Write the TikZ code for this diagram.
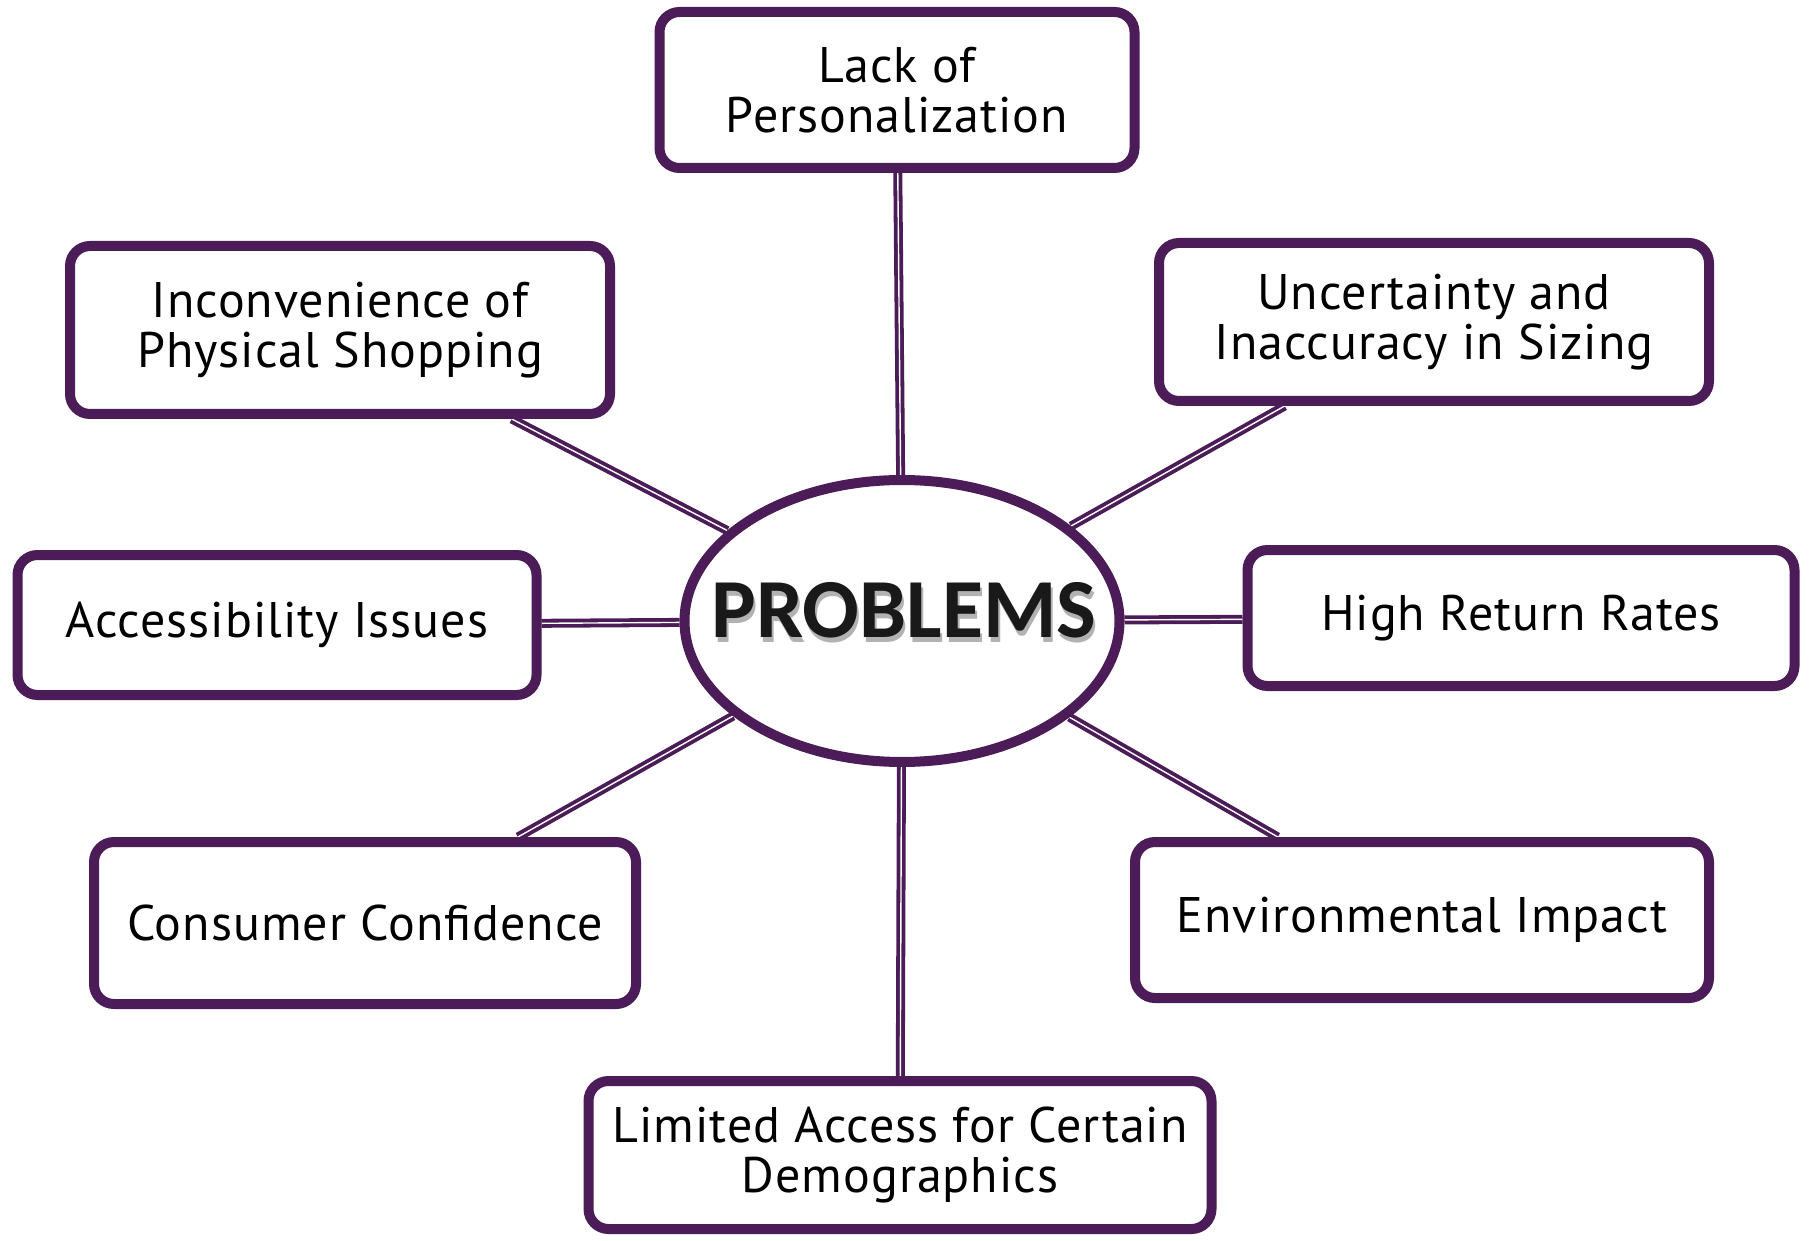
\documentclass[tikz,border=0pt]{standalone}
\usepackage{fontspec}
\setmainfont{PT Sans}[LetterSpace=2]
\newfontfamily\titlefont{Carlito}
\usetikzlibrary{shapes.geometric,backgrounds}

\definecolor{plum}{HTML}{4B1C57}

\begin{document}
\begin{tikzpicture}[x=0.5pt,y=-0.5pt,
  issue/.style={draw=plum,line width=5pt,rounded corners=10pt,fill=white,
    align=center,inner sep=0pt,font=\fontsize{25}{25}\selectfont},
  hub/.style={ellipse,draw=plum,line width=5pt,fill=white,inner sep=0pt,
    minimum width=217.5pt,minimum height=141pt},
  title/.style={font=\titlefont\bfseries\fontsize{42}{42}\selectfont},
  link/.style={draw=plum,line width=1.9pt,double=white,double distance=0.7pt}]

  \useasboundingbox (0,0) rectangle (1812,1241);

  % centre
  \node [hub] (hub) at (902,621) {};
  \node [title,text=black!30] (shade) at (906,615) {PROBLEMS};
  \node [title,text=black!90] (title) at (904,610) {PROBLEMS};

  % the eight problems
  \node [issue,minimum width=237.5pt,minimum height=78pt] (lack) at (897,90)
    {Lack of\\Personalization};
  \node [issue,minimum width=270pt,minimum height=84pt] (incon) at (340,330)
    {Inconvenience of\\Physical Shopping};
  \node [issue,minimum width=275pt,minimum height=79pt] (sizing) at (1434,322)
    {Uncertainty and\\Inaccuracy in Sizing};
  \node [issue,minimum width=259.5pt,minimum height=70pt] (access) at (277,625)
    {Accessibility Issues};
  \node [issue,minimum width=273.5pt,minimum height=68pt] (returns) at (1521,618)
    {High Return Rates};
  \node [issue,minimum width=271pt,minimum height=81pt] (confid) at (365,923)
    {Consumer Confidence};
  \node [issue,minimum width=287pt,minimum height=78pt] (enviro) at (1422,920)
    {Environmental Impact};
  \node [issue,minimum width=311.5pt,minimum height=74pt] (limited) at (900,1155)
    {Limited Access for Certain\\Demographics};

  \begin{scope}[on background layer]
    \foreach \p in {lack,incon,sizing,access,returns,confid,enviro,limited}
      \draw [link] (hub) -- (\p);
  \end{scope}
\end{tikzpicture}
\end{document}
